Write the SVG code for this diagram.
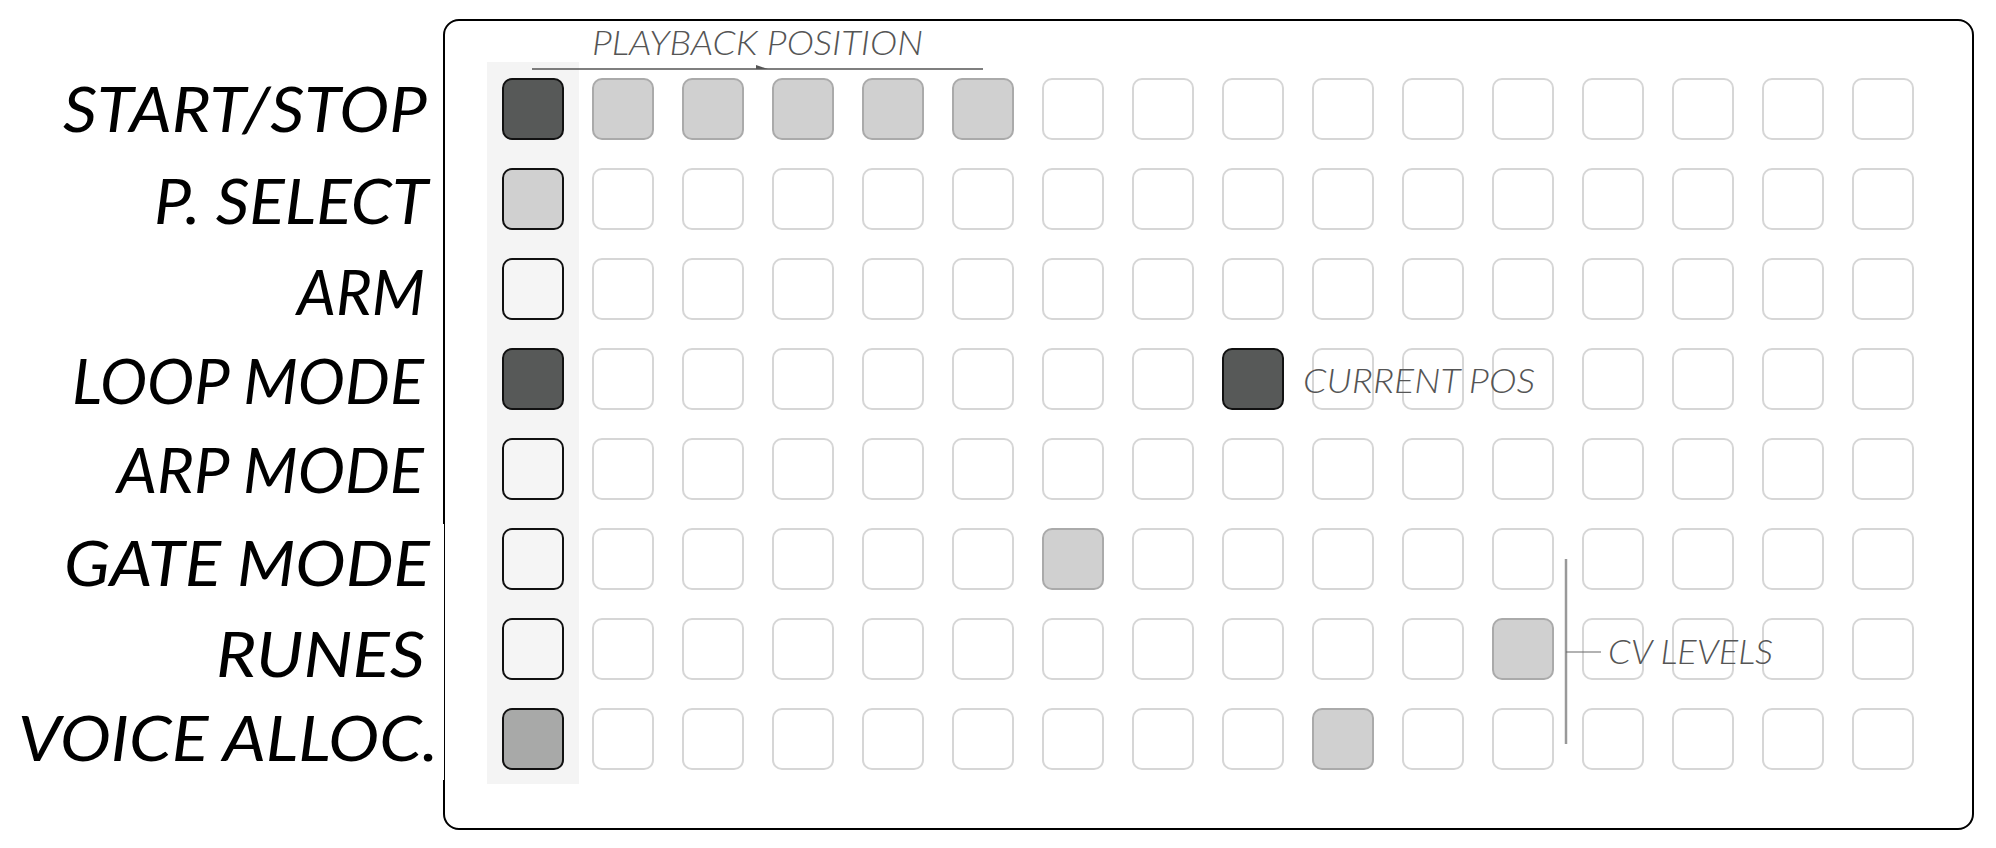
<svg xmlns="http://www.w3.org/2000/svg" width="1996" height="848" viewBox="0 0 1996 848">
<defs>
<style>
.lbl{font-family:Lato,"Open Sans","Liberation Sans",sans-serif;font-style:italic;font-size:62px;fill:#000}
.note{font-family:Lato,"Open Sans","Liberation Sans",sans-serif;font-style:italic;font-weight:300;font-size:33px;fill:#555}
.k{fill:#fff;stroke:#d6d6d6;stroke-width:2}
.g{fill:#d0d0d0;stroke:#aaa;stroke-width:2}
.kd{fill:#575958;stroke:#111;stroke-width:2}
.kl{fill:#f5f5f5;stroke:#111;stroke-width:2}
.kg{fill:#d0d0d0;stroke:#111;stroke-width:2}
.km{fill:#a8a9a8;stroke:#111;stroke-width:2}
</style>
<marker id="half" viewBox="0 0 12 4" refX="12" refY="4" markerWidth="12" markerHeight="4" markerUnits="userSpaceOnUse" orient="auto">
<path d="M0,0 L12,4 L0,4 Z" fill="#555"/>
</marker>
<rect id="sq" width="60" height="60" rx="9"/>
</defs>
<rect width="1996" height="848" fill="#fff"/>
<g id="panel">
<rect x="444" y="20" width="1529" height="809" rx="15" fill="#fff" stroke="#000" stroke-width="2"/>
<rect x="487" y="62" width="92" height="722" fill="#f4f4f4"/>
<rect x="420" y="524" width="24" height="256" fill="#fff"/>
</g>
<g id="labels">
<text class="lbl" x="63" y="132" textLength="364" lengthAdjust="spacingAndGlyphs">START/STOP</text>
<text class="lbl" x="154" y="224" textLength="274" lengthAdjust="spacingAndGlyphs">P. SELECT</text>
<text class="lbl" x="297" y="315" textLength="128" lengthAdjust="spacingAndGlyphs">ARM</text>
<text class="lbl" x="72" y="404" textLength="352" lengthAdjust="spacingAndGlyphs">LOOP MODE</text>
<text class="lbl" x="117" y="493" textLength="307" lengthAdjust="spacingAndGlyphs">ARP MODE</text>
<text class="lbl" x="64" y="586" textLength="366" lengthAdjust="spacingAndGlyphs">GATE MODE</text>
<text class="lbl" x="216" y="677" textLength="209" lengthAdjust="spacingAndGlyphs">RUNES</text>
<text class="lbl" x="18" y="761" textLength="420" lengthAdjust="spacingAndGlyphs">VOICE ALLOC.</text>
</g>
<g id="grid">
<g id="col0">
<use href="#sq" x="503" y="79" class="kd"/>
<use href="#sq" x="503" y="169" class="kg"/>
<use href="#sq" x="503" y="259" class="kl"/>
<use href="#sq" x="503" y="349" class="kd"/>
<use href="#sq" x="503" y="439" class="kl"/>
<use href="#sq" x="503" y="529" class="kl"/>
<use href="#sq" x="503" y="619" class="kl"/>
<use href="#sq" x="503" y="709" class="km"/>
</g>
<g id="row0">
<use href="#sq" x="593" y="79" class="g"/><use href="#sq" x="683" y="79" class="g"/><use href="#sq" x="773" y="79" class="g"/><use href="#sq" x="863" y="79" class="g"/><use href="#sq" x="953" y="79" class="g"/>
<use href="#sq" x="1043" y="79" class="k"/><use href="#sq" x="1133" y="79" class="k"/><use href="#sq" x="1223" y="79" class="k"/><use href="#sq" x="1313" y="79" class="k"/><use href="#sq" x="1403" y="79" class="k"/><use href="#sq" x="1493" y="79" class="k"/><use href="#sq" x="1583" y="79" class="k"/><use href="#sq" x="1673" y="79" class="k"/><use href="#sq" x="1763" y="79" class="k"/><use href="#sq" x="1853" y="79" class="k"/>
</g>
<g id="row1">
<use href="#sq" x="593" y="169" class="k"/><use href="#sq" x="683" y="169" class="k"/><use href="#sq" x="773" y="169" class="k"/><use href="#sq" x="863" y="169" class="k"/><use href="#sq" x="953" y="169" class="k"/><use href="#sq" x="1043" y="169" class="k"/><use href="#sq" x="1133" y="169" class="k"/><use href="#sq" x="1223" y="169" class="k"/><use href="#sq" x="1313" y="169" class="k"/><use href="#sq" x="1403" y="169" class="k"/><use href="#sq" x="1493" y="169" class="k"/><use href="#sq" x="1583" y="169" class="k"/><use href="#sq" x="1673" y="169" class="k"/><use href="#sq" x="1763" y="169" class="k"/><use href="#sq" x="1853" y="169" class="k"/>
</g>
<g id="row2">
<use href="#sq" x="593" y="259" class="k"/><use href="#sq" x="683" y="259" class="k"/><use href="#sq" x="773" y="259" class="k"/><use href="#sq" x="863" y="259" class="k"/><use href="#sq" x="953" y="259" class="k"/><use href="#sq" x="1043" y="259" class="k"/><use href="#sq" x="1133" y="259" class="k"/><use href="#sq" x="1223" y="259" class="k"/><use href="#sq" x="1313" y="259" class="k"/><use href="#sq" x="1403" y="259" class="k"/><use href="#sq" x="1493" y="259" class="k"/><use href="#sq" x="1583" y="259" class="k"/><use href="#sq" x="1673" y="259" class="k"/><use href="#sq" x="1763" y="259" class="k"/><use href="#sq" x="1853" y="259" class="k"/>
</g>
<g id="row3">
<use href="#sq" x="593" y="349" class="k"/><use href="#sq" x="683" y="349" class="k"/><use href="#sq" x="773" y="349" class="k"/><use href="#sq" x="863" y="349" class="k"/><use href="#sq" x="953" y="349" class="k"/><use href="#sq" x="1043" y="349" class="k"/><use href="#sq" x="1133" y="349" class="k"/><use href="#sq" x="1223" y="349" class="kd"/><use href="#sq" x="1313" y="349" class="k"/><use href="#sq" x="1403" y="349" class="k"/><use href="#sq" x="1493" y="349" class="k"/><use href="#sq" x="1583" y="349" class="k"/><use href="#sq" x="1673" y="349" class="k"/><use href="#sq" x="1763" y="349" class="k"/><use href="#sq" x="1853" y="349" class="k"/>
</g>
<g id="row4">
<use href="#sq" x="593" y="439" class="k"/><use href="#sq" x="683" y="439" class="k"/><use href="#sq" x="773" y="439" class="k"/><use href="#sq" x="863" y="439" class="k"/><use href="#sq" x="953" y="439" class="k"/><use href="#sq" x="1043" y="439" class="k"/><use href="#sq" x="1133" y="439" class="k"/><use href="#sq" x="1223" y="439" class="k"/><use href="#sq" x="1313" y="439" class="k"/><use href="#sq" x="1403" y="439" class="k"/><use href="#sq" x="1493" y="439" class="k"/><use href="#sq" x="1583" y="439" class="k"/><use href="#sq" x="1673" y="439" class="k"/><use href="#sq" x="1763" y="439" class="k"/><use href="#sq" x="1853" y="439" class="k"/>
</g>
<g id="row5">
<use href="#sq" x="593" y="529" class="k"/><use href="#sq" x="683" y="529" class="k"/><use href="#sq" x="773" y="529" class="k"/><use href="#sq" x="863" y="529" class="k"/><use href="#sq" x="953" y="529" class="k"/><use href="#sq" x="1043" y="529" class="g"/><use href="#sq" x="1133" y="529" class="k"/><use href="#sq" x="1223" y="529" class="k"/><use href="#sq" x="1313" y="529" class="k"/><use href="#sq" x="1403" y="529" class="k"/><use href="#sq" x="1493" y="529" class="k"/><use href="#sq" x="1583" y="529" class="k"/><use href="#sq" x="1673" y="529" class="k"/><use href="#sq" x="1763" y="529" class="k"/><use href="#sq" x="1853" y="529" class="k"/>
</g>
<g id="row6">
<use href="#sq" x="593" y="619" class="k"/><use href="#sq" x="683" y="619" class="k"/><use href="#sq" x="773" y="619" class="k"/><use href="#sq" x="863" y="619" class="k"/><use href="#sq" x="953" y="619" class="k"/><use href="#sq" x="1043" y="619" class="k"/><use href="#sq" x="1133" y="619" class="k"/><use href="#sq" x="1223" y="619" class="k"/><use href="#sq" x="1313" y="619" class="k"/><use href="#sq" x="1403" y="619" class="k"/><use href="#sq" x="1493" y="619" class="g"/><use href="#sq" x="1583" y="619" class="k"/><use href="#sq" x="1673" y="619" class="k"/><use href="#sq" x="1763" y="619" class="k"/><use href="#sq" x="1853" y="619" class="k"/>
</g>
<g id="row7">
<use href="#sq" x="593" y="709" class="k"/><use href="#sq" x="683" y="709" class="k"/><use href="#sq" x="773" y="709" class="k"/><use href="#sq" x="863" y="709" class="k"/><use href="#sq" x="953" y="709" class="k"/><use href="#sq" x="1043" y="709" class="k"/><use href="#sq" x="1133" y="709" class="k"/><use href="#sq" x="1223" y="709" class="k"/><use href="#sq" x="1313" y="709" class="g"/><use href="#sq" x="1403" y="709" class="k"/><use href="#sq" x="1493" y="709" class="k"/><use href="#sq" x="1583" y="709" class="k"/><use href="#sq" x="1673" y="709" class="k"/><use href="#sq" x="1763" y="709" class="k"/><use href="#sq" x="1853" y="709" class="k"/>
</g>
</g>
<g id="connectors" fill="none">
<path d="M532,69 L768,69 L983,69" stroke="#555" stroke-width="1.5" marker-mid="url(#half)"/>
<line x1="1566" y1="559" x2="1566" y2="744" stroke="#999" stroke-width="2.5"/>
<line x1="1566" y1="652" x2="1601" y2="652" stroke="#666" stroke-width="1.2"/>
</g>
<g id="notes">
<text class="note" x="592" y="55" textLength="331" lengthAdjust="spacingAndGlyphs">PLAYBACK POSITION</text>
<text class="note" x="1303" y="393" textLength="232" lengthAdjust="spacingAndGlyphs">CURRENT POS</text>
<text class="note" x="1608" y="664" textLength="165" lengthAdjust="spacingAndGlyphs">CV LEVELS</text>
</g>
</svg>
